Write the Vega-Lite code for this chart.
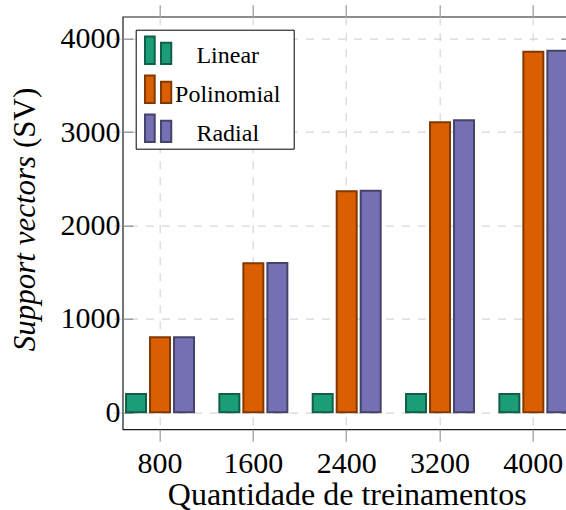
{
  "$schema": "https://vega.github.io/schema/vega-lite/v6.json",
  "autosize": {"type": "none"},
  "padding": {"left": 122.7, "top": 16.7, "right": 0, "bottom": 81},
  "width": 448,
  "height": 412.6,
  "config": {
    "font": "Liberation Serif",
    "view": {"stroke": "#1a1a1a", "strokeWidth": 1.2},
    "axis": {"labelColor": "#000", "titleColor": "#000", "titleFontWeight": "normal", "domain": false}
  },
  "data": {
    "values": [
      {"n": 800, "kernel": "Linear", "sv": 195},
      {"n": 1600, "kernel": "Linear", "sv": 195},
      {"n": 2400, "kernel": "Linear", "sv": 195},
      {"n": 3200, "kernel": "Linear", "sv": 195},
      {"n": 4000, "kernel": "Linear", "sv": 195},
      {"n": 800, "kernel": "Polinomial", "sv": 803},
      {"n": 1600, "kernel": "Polinomial", "sv": 1596},
      {"n": 2400, "kernel": "Polinomial", "sv": 2366},
      {"n": 3200, "kernel": "Polinomial", "sv": 3105},
      {"n": 4000, "kernel": "Polinomial", "sv": 3861},
      {"n": 800, "kernel": "Radial", "sv": 803},
      {"n": 1600, "kernel": "Radial", "sv": 1597},
      {"n": 2400, "kernel": "Radial", "sv": 2373},
      {"n": 3200, "kernel": "Radial", "sv": 3126},
      {"n": 4000, "kernel": "Radial", "sv": 3871}
    ]
  },
  "layer": [
    {
      "mark": {"type": "bar", "strokeWidth": 2},
      "encoding": {
        "x": {
          "field": "n", "type": "ordinal",
          "scale": {"range": [-9.33, 457.33], "paddingInner": 0, "paddingOuter": 0},
          "axis": {
            "orient": "bottom", "bandPosition": 0.5,
            "grid": true, "gridDash": [8, 8], "gridColor": "#d6d6d6", "gridWidth": 1.2,
            "ticks": true, "tickSize": 12, "tickColor": "#999", "tickWidth": 1.2,
            "labelFontSize": 30, "labelAngle": 0, "labelBaseline": "alphabetic", "labelPadding": 31,
            "title": "Quantidade de treinamentos", "titleFontSize": 32,
            "titleBaseline": "alphabetic", "titleY": 75
          }
        },
        "xOffset": {
          "field": "kernel", "type": "nominal",
          "scale": {"paddingInner": 0.167, "paddingOuter": 0.528}
        },
        "y": {
          "field": "sv", "type": "quantitative", "stack": null,
          "scale": {"domain": [-182, 4235], "nice": false, "zero": false},
          "axis": {
            "orient": "left", "values": [0, 1000, 2000, 3000, 4000], "format": "d",
            "grid": true, "gridDash": [8, 8], "gridColor": "#d6d6d6", "gridWidth": 1.2,
            "ticks": true, "tickSize": -10, "tickColor": "#888", "tickWidth": 1.2,
            "labelFontSize": 30, "labelBaseline": "middle", "labelPadding": 12.7,
            "title": "Support vectors", "titleFontStyle": "italic", "titleFontSize": 31,
            "titleAngle": 270, "titleAlign": "left", "titleBaseline": "alphabetic",
            "titleX": -87.7, "titleY": 334
          }
        },
        "fill": {
          "field": "kernel", "type": "nominal",
          "scale": {"domain": ["Linear", "Polinomial", "Radial"], "range": ["#1b9e77", "#d95f02", "#7570b3"]},
          "legend": {
            "orient": "top-left", "offset": 13, "title": null,
            "symbolType": "M-1,-1M1,1M7.88,0M-0.544,-0.697H0.027V0.932H-0.544ZM0.397,-0.326H1.0V0.932H0.397Z",
            "symbolSize": 1156, "symbolStrokeWidth": 2,
            "labelFontSize": 24, "labelAlign": "center", "labelOffset": 55.5, "labelColor": "#000",
            "padding": 0.55, "rowPadding": -10.2,
            "strokeColor": "#000", "fillColor": "#fff",
            "encode": {"labels": {"update": {"dy": {"value": 7.5}}}}
          }
        },
        "stroke": {
          "field": "kernel", "type": "nominal",
          "scale": {"domain": ["Linear", "Polinomial", "Radial"], "range": ["#105f47", "#823901", "#46436b"]},
          "legend": {
            "orient": "top-left", "offset": 13, "title": null,
            "symbolType": "M-1,-1M1,1M7.88,0M-0.544,-0.697H0.027V0.932H-0.544ZM0.397,-0.326H1.0V0.932H0.397Z",
            "symbolSize": 1156, "symbolStrokeWidth": 2,
            "labelFontSize": 24, "labelAlign": "center", "labelOffset": 55.5, "labelColor": "#000",
            "padding": 0.55, "rowPadding": -10.2,
            "strokeColor": "#000", "fillColor": "#fff",
            "encode": {"labels": {"update": {"dy": {"value": 7.5}}}}
          }
        }
      }
    },
    {
      "mark": {"type": "bar", "opacity": 0},
      "encoding": {
        "x": {
          "field": "n", "type": "ordinal",
          "axis": {
            "orient": "top", "bandPosition": 0.5, "grid": false, "labels": false,
            "ticks": true, "tickSize": 12, "tickColor": "#999", "tickWidth": 1.2, "title": null
          }
        },
        "xOffset": {"field": "kernel", "type": "nominal"},
        "y": {
          "field": "sv", "type": "quantitative", "stack": null,
          "axis": {
            "orient": "right", "values": [0, 1000, 2000, 3000, 4000], "grid": false, "labels": false,
            "ticks": true, "tickSize": -10, "tickColor": "#888", "tickWidth": 1.2,
            "title": "(SV)", "titleFontStyle": "normal", "titleFontSize": 31,
            "titleAngle": 270, "titleAlign": "left", "titleBaseline": "alphabetic",
            "titleX": -535.7, "titleY": 130.8
          }
        }
      }
    }
  ],
  "resolve": {"axis": {"x": "independent", "y": "independent"}}
}
